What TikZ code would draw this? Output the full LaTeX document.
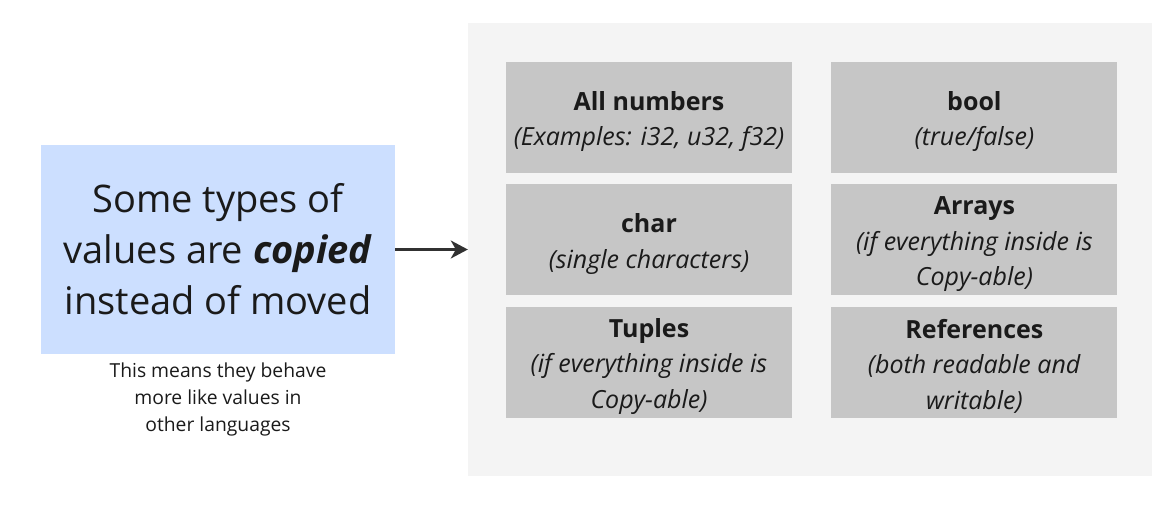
\documentclass[tikz,border=0pt]{standalone}
\usepackage{fontspec}
\setmainfont{Open Sans}
\usetikzlibrary{positioning,arrows.meta}

\definecolor{ideablue}{HTML}{CCDFFF}
\definecolor{typegray}{HTML}{C6C6C6}
\definecolor{panelgray}{HTML}{F4F4F4}
\definecolor{inkdark}{HTML}{1A1A1A}

\tikzset{
  typebox/.style={fill=typegray, minimum width=286pt, minimum height=111pt,
    inner sep=0pt, align=center, text=inkdark, font=\fontsize{25}{35.5}\selectfont},
}
\newcommand{\kind}[1]{\rule{0pt}{27pt}\textbf{#1}}
\newcommand{\hint}[1]{\textit{#1}}

\begin{document}
\begin{tikzpicture}[x=1pt,y=-1pt,>={Stealth[length=17pt,width=18pt,inset=5pt]}]
  \useasboundingbox (0,0) rectangle (1175,505);
  % grey panel behind the copy types
  \node[fill=panelgray, minimum width=684pt, minimum height=453pt, inner sep=0pt] (panel) at (810,249.5) {};

  % the main statement
  \node[fill=ideablue, minimum width=354pt, minimum height=209pt, inner sep=0pt,
        align=center, text=inkdark, font=\fontsize{38}{51}\selectfont] (idea) at (218,249.5)
        {Some types of\\values are \textbf{\textit{copied}}\\instead of moved};
  \node[below=5pt of idea, align=center, text=inkdark, font=\fontsize{19.3}{27}\selectfont] (note)
        {This means they behave\\more like values in\\other languages};

  \draw[->, line width=2.2pt, draw=inkdark!90] (idea) -- (panel);

  % types that are copied
  \node[typebox] (numbers) at (649,117.5) {\kind{All numbers}\\\hint{(Examples: i32, u32, f32)}};
  \node[typebox, right=39pt of numbers] (bool) {\kind{bool}\\\hint{(true/false)}};
  \node[typebox, below=11pt of numbers] (char) {\kind{char}\\\hint{(single characters)}};
  \node[typebox, below=11pt of bool] (arrays) {\kind{Arrays}\\\hint{(if everything inside is}\\\hint{Copy-able)}};
  \node[typebox, below=11pt of char] (tuples) {\kind{Tuples}\\\hint{(if everything inside is}\\\hint{Copy-able)}};
  \node[typebox, below=11pt of arrays] (refs) {\kind{References}\\\hint{(both readable and}\\\hint{writable)}};
\end{tikzpicture}
\end{document}
